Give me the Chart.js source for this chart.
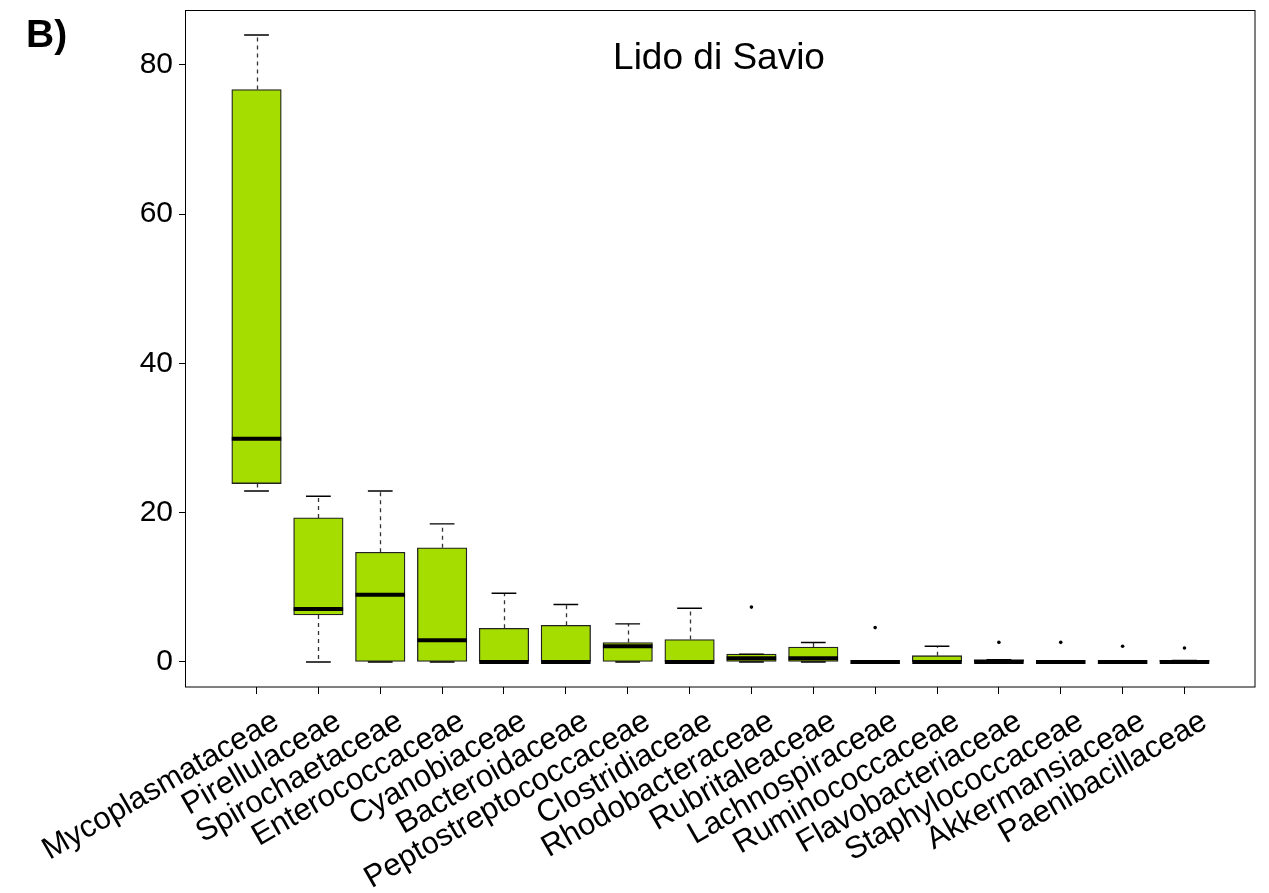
<!DOCTYPE html>
<html>
<head>
<meta charset="utf-8">
<script src="https://cdn.jsdelivr.net/npm/chart.js@4/dist/chart.umd.min.js"></script>
<style>
  html, body { margin: 0; padding: 0; background: #fff; }
  #wrap { width: 1269px; height: 893px; position: relative; }
</style>
</head>
<body>
<div id="wrap"><canvas id="c"></canvas></div>
<script>
// Relative abundance (%) per family, Lido di Savio samples
const families = [
  "Mycoplasmataceae", "Pirellulaceae", "Spirochaetaceae", "Enterococcaceae",
  "Cyanobiaceae", "Bacteroidaceae", "Peptostreptococcaceae", "Clostridiaceae",
  "Rhodobacteraceae", "Rubritaleaceae", "Lachnospiraceae", "Ruminococcaceae",
  "Flavobacteriaceae", "Staphylococcaceae", "Akkermansiaceae", "Paenibacillaceae"
];
const whiskerLow  = [22.9, 0,    0,    0,    0,   0,   0,   0,   0,    0,   0, 0,    0,   0, 0, 0];
const quartile1   = [23.9, 6.3,  0,    0,    0,   0,   0,   0,   0,    0,   0, 0,    0,   0, 0, 0];
const medians     = [29.9, 7.1,  9.0,  2.9,  0,   0,   2.1, 0,   0.5,  0.5, 0, 0,    0,   0, 0, 0];
const quartile3   = [76.7, 19.3, 14.7, 15.3, 4.5, 4.9, 2.6, 3.0, 1.05, 2.0, 0, 0.84, 0.3, 0, 0, 0.2];
const whiskerHigh = [84.0, 22.2, 22.9, 18.5, 9.2, 7.7, 5.1, 7.2, 1.05, 2.6, 0, 2.1,  0.3, 0, 0, 0.2];
// outliers: [family position (1-based), value]
const outlierPos  = [9,    11,  13,   14,   15,   16];
const outlierVal  = [7.35, 4.6, 2.62, 2.62, 2.1,  1.86];
const yTickValues = [0, 20, 40, 60, 80];

const FONT = "'Liberation Sans', Arial, Helvetica, sans-serif";
const BOX_HALF = 0.4;      // half box width in x units
const STAPLE_HALF = 0.2;   // half staple width in x units

const boxParts = {
  id: 'boxParts',
  afterDatasetsDraw(chart) {
    const { ctx, scales: { x, y } } = chart;
    ctx.save();
    families.forEach((f, i) => {
      const px = x.getPixelForValue(i + 1);
      const sw = x.getPixelForValue(i + 1 + STAPLE_HALF) - px;
      const bw = x.getPixelForValue(i + 1 + BOX_HALF) - px;
      const cx = Math.round(px) + 0.5;
      // dashed whiskers
      ctx.strokeStyle = '#333';
      ctx.lineWidth = 1.3;
      ctx.setLineDash([4, 4]);
      ctx.beginPath();
      if (whiskerHigh[i] > quartile3[i]) {
        ctx.moveTo(cx, y.getPixelForValue(quartile3[i]));
        ctx.lineTo(cx, y.getPixelForValue(whiskerHigh[i]));
      }
      if (whiskerLow[i] < quartile1[i]) {
        ctx.moveTo(cx, y.getPixelForValue(quartile1[i]));
        ctx.lineTo(cx, y.getPixelForValue(whiskerLow[i]));
      }
      ctx.stroke();
      // staples
      ctx.setLineDash([]);
      ctx.strokeStyle = '#000';
      ctx.lineWidth = 1.4;
      ctx.beginPath();
      [whiskerHigh[i], whiskerLow[i]].forEach(v => {
        const py = y.getPixelForValue(v);
        ctx.moveTo(px - sw, py);
        ctx.lineTo(px + sw, py);
      });
      ctx.stroke();
      // median
      ctx.lineWidth = 4;
      ctx.beginPath();
      const my = y.getPixelForValue(medians[i]);
      ctx.moveTo(px - bw, my);
      ctx.lineTo(px + bw, my);
      ctx.stroke();
    });
    ctx.restore();
  },
  afterDraw(chart) {
    const { ctx, chartArea: a } = chart;
    ctx.save();
    ctx.strokeStyle = '#000';
    ctx.lineWidth = 1;
    ctx.strokeRect(Math.round(a.left) - 0.5, Math.round(a.top) + 0.5,
                   Math.round(a.right - a.left) + 0.5, Math.round(a.bottom - a.top) - 0.5);
    ctx.fillStyle = '#000';
    ctx.textBaseline = 'alphabetic';
    ctx.textAlign = 'left';
    ctx.font = 'bold 39px ' + FONT;
    ctx.fillText('B)', 26, 47);
    ctx.textAlign = 'center';
    ctx.font = '37px ' + FONT;
    ctx.fillText('Lido di Savio', 719, 69);
    ctx.restore();
  }
};

new Chart(document.getElementById('c'), {
  type: 'bar',
  data: {
    datasets: [
      {
        type: 'bar',
        data: families.map((f, i) => ({ x: i + 1, y: [quartile1[i], quartile3[i]] })),
        backgroundColor: '#a6dd00',
        borderColor: '#222',
        borderWidth: 1.3,
        borderSkipped: false,
        barThickness: 49.5
      },
      {
        type: 'scatter',
        data: outlierPos.map((p, i) => ({ x: p, y: outlierVal[i] })),
        backgroundColor: '#000',
        borderColor: '#000',
        pointRadius: 1.8,
        borderWidth: 0
      }
    ]
  },
  options: {
    responsive: true,
    maintainAspectRatio: false,
    animation: false,
    layout: { padding: { top: 10, right: 14, left: 0, bottom: 0 } },
    plugins: { legend: { display: false }, tooltip: { enabled: false } },
    scales: {
      x: {
        type: 'linear',
        offset: false,
        min: -0.14,
        max: 17.14,
        afterBuildTicks(scale) { scale.ticks = families.map((f, i) => ({ value: i + 1 })); },
        afterFit(scale) { scale.height = 206; scale.paddingLeft = 0; scale.paddingRight = 0; },
        border: { display: false },
        grid: { offset: false, drawOnChartArea: false, drawTicks: true, tickLength: 7, color: '#000', tickWidth: 1 },
        ticks: {
          autoSkip: false,
          minRotation: 30,
          maxRotation: 30,
          padding: 9,
          labelOffset: 20,
          color: '#000',
          font: { family: FONT, size: 31 },
          callback: v => families[v - 1]
        }
      },
      y: {
        min: -3.36,
        max: 87.36,
        afterBuildTicks(scale) { scale.ticks = yTickValues.map(v => ({ value: v })); },
        afterFit(scale) { scale.width = 186; scale.paddingTop = 0; scale.paddingBottom = 0; },
        border: { display: false },
        grid: { drawOnChartArea: false, drawTicks: true, tickLength: 7, color: '#000', tickWidth: 1 },
        ticks: {
          padding: 6,
          color: '#000',
          font: { family: FONT, size: 30 }
        }
      }
    }
  },
  plugins: [boxParts]
});
</script>
</body>
</html>
